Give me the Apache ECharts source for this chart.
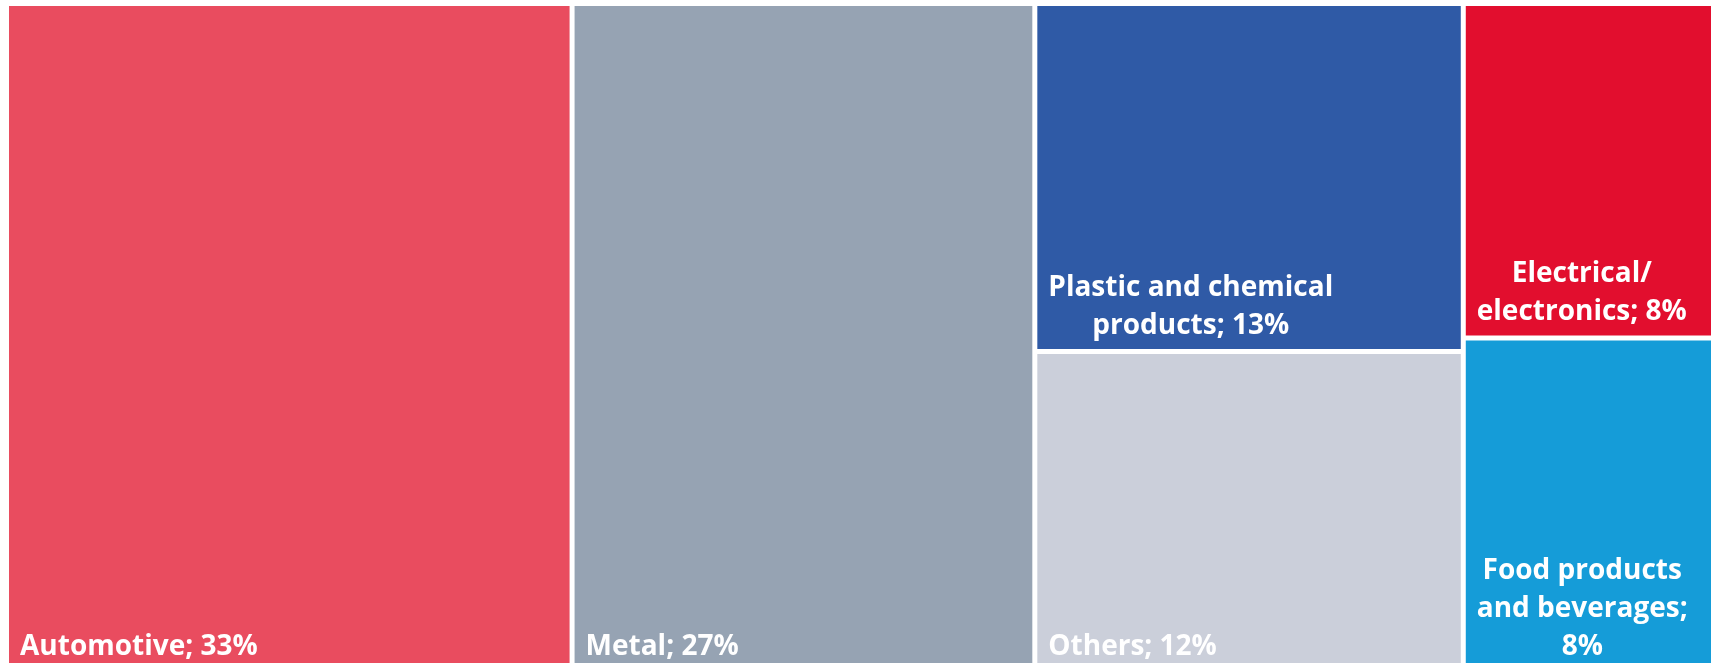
<!DOCTYPE html>
<html>
<head>
<meta charset="utf-8">
<script src="https://cdn.jsdelivr.net/npm/echarts@6/dist/echarts.min.js"></script>
<style>
html,body{margin:0;padding:0;background:#fff;}
#chart{width:1711px;height:663px;}
</style>
</head>
<body>
<div id="chart"></div>
<script>
const names = ['Automotive', 'Metal', 'Plastic and chemical\nproducts', 'Others', 'Electrical/\nelectronics', 'Food products\nand beverages'];
const values = [33, 27, 13, 12, 8, 8];
const separators = ['; ', '; ', '; ', '; ', '; ', ';\n'];
const colors = ['#E94C5F', '#96A3B3', '#2F5AA6', '#CBCFDA', '#E20E2E', '#159CD8'];

const FONT_SIZE = 28;
const LINE_H = 38;
const FONT_FAMILY = 'Open Sans';
const measureCtx = document.createElement('canvas').getContext('2d');
measureCtx.font = 'bold ' + FONT_SIZE + 'px "' + FONT_FAMILY + '"';

const chart = echarts.init(document.getElementById('chart'));
const data = names.map((n, i) => ({
  name: n,
  value: values[i],
  itemStyle: { color: colors[i] }
}));

chart.setOption({
  backgroundColor: '#ffffff',
  animation: false,
  series: [{
    type: 'treemap',
    left: 9,
    top: 6,
    width: 1726,
    height: 664,
    roam: false,
    nodeClick: false,
    sort: false,
    squareRatio: 1,
    breadcrumb: { show: false },
    levels: [{
      itemStyle: { gapWidth: 5, borderWidth: 0 }
    }],
    itemStyle: { borderWidth: 0 },
    label: {
      show: true,
      padding: 0,
      color: '#ffffff',
      fontFamily: FONT_FAMILY,
      fontWeight: 'bold',
      fontSize: FONT_SIZE,
      lineHeight: LINE_H,
      formatter: function (p) {
        const i = names.indexOf(p.name);
        const txt = p.name + separators[i] + p.value + '%';
        return txt.split('\n').map(l => '{c|' + l + '}').join('\n');
      },
      rich: {
        c: {
          align: 'center',
          color: '#ffffff',
          fontFamily: FONT_FAMILY,
          fontWeight: 'bold',
          fontSize: FONT_SIZE,
          lineHeight: LINE_H
        }
      }
    },
    labelLayout: function (p) {
      const plain = (p.text || '').replace(/\{c\|([^}]*)\}/g, '$1');
      const lines = plain.split('\n');
      let maxW = 0;
      lines.forEach(l => { maxW = Math.max(maxW, measureCtx.measureText(l).width); });
      return {
        x: p.rect.x + 11 + maxW / 2,
        y: p.rect.y + p.rect.height - lines.length * LINE_H - 4,
        align: 'center',
        verticalAlign: 'top'
      };
    },
    data: data
  }]
});
</script>
</body>
</html>
